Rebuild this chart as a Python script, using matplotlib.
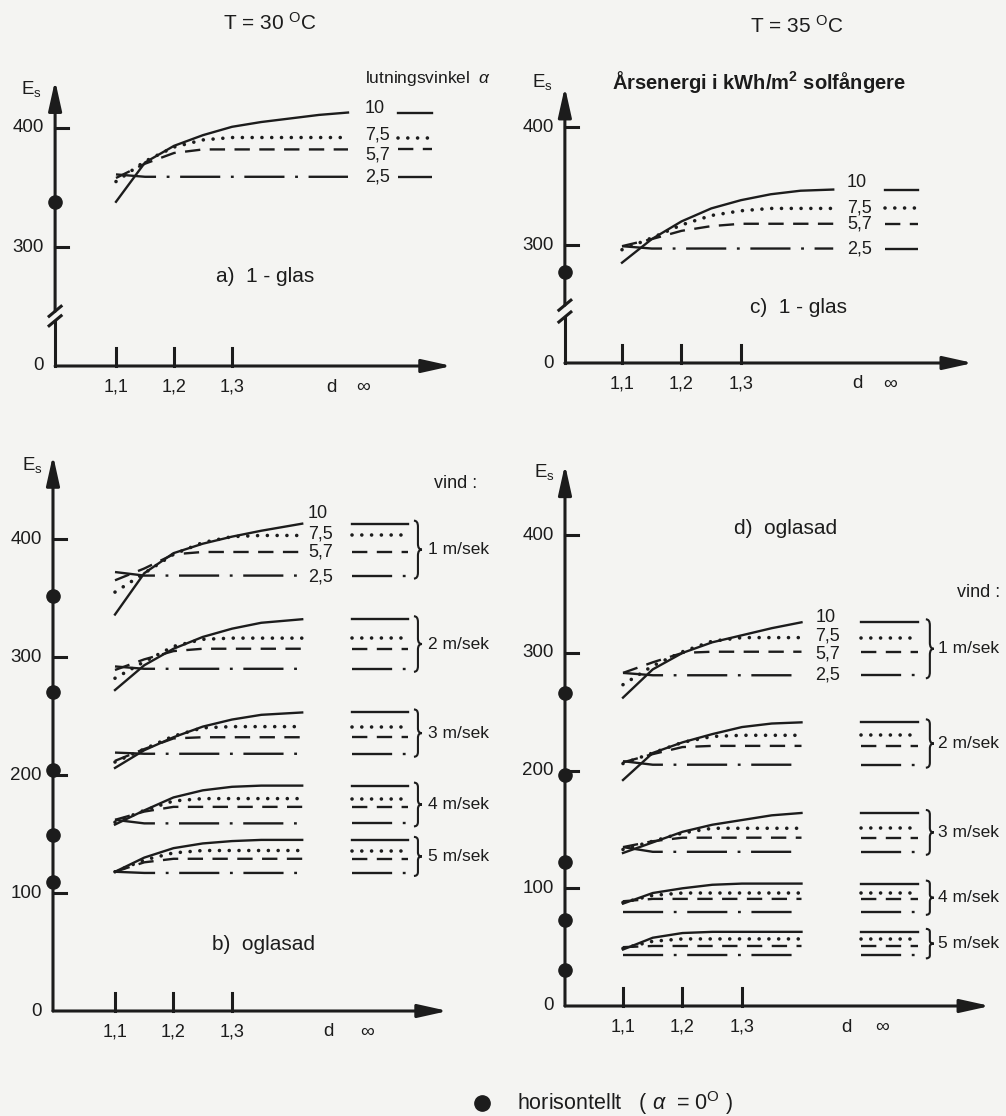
import numpy as np
import matplotlib.pyplot as plt
from matplotlib.path import Path
from matplotlib.patches import PathPatch

plt.rcParams['font.family'] = ['Liberation Sans', 'DejaVu Sans']
plt.rcParams['mathtext.fontset'] = 'custom'
plt.rcParams['mathtext.rm'] = 'Liberation Sans'
plt.rcParams['mathtext.it'] = 'Liberation Sans:italic'
plt.rcParams['mathtext.bf'] = 'Liberation Sans:bold'

INK = '#1c1c1c'
PAPER = '#f4f4f2'
W, H = 1006, 1116

# data (E_s in kWh/m2, d = distance ratio)
ANGLES = ['10', '7,5', '5,7', '2,5']
WIND = ['1 m/sek', '2 m/sek', '3 m/sek', '4 m/sek', '5 m/sek']
X_TICKS = [1.1, 1.2, 1.3]
X_TICK_LABELS = ['1,1', '1,2', '1,3']

# a) T = 30 C, 1-glas
D_A = [1.10, 1.15, 1.20, 1.25, 1.30, 1.35, 1.40, 1.45, 1.50]
A_10 = [338, 371, 385, 394, 401, 405, 408, 411, 413]
A_75 = [355, 372, 384, 390, 392, 392, 392, 392, 392]
A_57 = [358, 370, 379, 382, 382, 382, 382, 382, 382]
A_25 = [361, 359, 359, 359, 359, 359, 359, 359, 359]
A_HORIS = 338

# c) T = 35 C, 1-glas
D_C = [1.10, 1.15, 1.20, 1.25, 1.30, 1.35, 1.40, 1.455]
C_10 = [285, 305, 320, 331, 338, 343, 346, 347]
C_75 = [296, 306, 317, 325, 329, 331, 331, 331]
C_57 = [299, 305, 312, 316, 318, 318, 318, 318]
C_25 = [299, 297, 297, 297, 297, 297, 297, 297]
C_HORIS = 277

# b) T = 30 C, oglasad, one row per wind speed
D_B = [1.10, 1.15, 1.20, 1.25, 1.30, 1.35, 1.42]
B_10 = [[336, 371, 388, 396, 402, 407, 413],
        [272, 293, 307, 317, 324, 329, 332],
        [206, 221, 232, 241, 247, 251, 253],
        [158, 170, 181, 187, 190, 191, 191],
        [118, 130, 138, 142, 144, 145, 145]]
B_75 = [[355, 371, 387, 397, 402, 403, 403],
        [282, 296, 309, 315, 316, 316, 316],
        [211, 222, 233, 240, 241, 241, 241],
        [160, 170, 178, 180, 180, 180, 180],
        [118, 128, 134, 136, 136, 136, 136]]
B_57 = [[365, 375, 387, 389, 389, 389, 389],
        [289, 298, 305, 307, 307, 307, 307],
        [212, 222, 231, 232, 232, 232, 232],
        [162, 169, 173, 173, 173, 173, 173],
        [118, 126, 129, 129, 129, 129, 129]]
B_25 = [[372, 369, 369, 369, 369, 369, 369],
        [292, 290, 290, 290, 290, 290, 290],
        [219, 218, 218, 218, 218, 218, 218],
        [162, 159, 159, 159, 159, 159, 159],
        [118, 117, 117, 117, 117, 117, 117]]
B_HORIS = [352, 270, 204, 149, 109]

# d) T = 35 C, oglasad
D_D = [1.10, 1.15, 1.20, 1.25, 1.30, 1.35, 1.40]
D_10 = [[262, 286, 300, 309, 315, 321, 326],
        [192, 215, 224, 231, 237, 240, 241],
        [130, 139, 148, 154, 158, 162, 164],
        [87, 96, 100, 103, 104, 104, 104],
        [48, 58, 62, 63, 63, 63, 63]]
D_75 = [[273, 289, 301, 310, 313, 313, 313],
        [206, 215, 224, 229, 230, 230, 230],
        [133, 140, 147, 151, 151, 151, 151],
        [88, 94, 96, 96, 96, 96, 96],
        [49, 55, 57, 57, 57, 57, 57]]
D_57 = [[283, 292, 300, 301, 301, 301, 301],
        [207, 214, 220, 221, 221, 221, 221],
        [135, 140, 143, 143, 143, 143, 143],
        [89, 91, 91, 91, 91, 91, 91],
        [50, 51, 51, 51, 51, 51, 51]]
D_25 = [[283, 281, 281, 281, 281, 281, 281],
        [208, 205, 205, 205, 205, 205, 205],
        [135, 131, 131, 131, 131, 131, 131],
        [80, 80, 80, 80, 80, 80, 80],
        [43, 43, 43, 43, 43, 43, 43]]
D_HORIS = [266, 196, 122, 73, 31]

STYLE = {
    '10': dict(ls='-', lw=1.7),
    '7,5': dict(ls=(0, (0.01, 2.7)), lw=2.6, dash_capstyle='round'),
    '5,7': dict(ls=(0, (6.5, 4)), lw=1.7),
    '2,5': dict(ls=(0, (17, 4.5, 1.2, 4.5)), lw=1.7),
}

fig = plt.figure(figsize=(W / 100, H / 100), dpi=100, facecolor=PAPER)


def panel(box, px0, sx, py0, v0, sy):
    l, r, t, b = box
    ax = fig.add_axes([l / W, 1 - b / H, (r - l) / W, (b - t) / H])
    ax.set_xlim(1.1 + (l - px0) / sx, 1.1 + (r - px0) / sx)
    ax.set_ylim(v0 + (py0 - b) / sy, v0 + (py0 - t) / sy)
    ax.axis('off')
    return ax, sx, sy


def arrow(ax, start, end):
    ax.annotate('', xy=end, xytext=start,
                arrowprops=dict(arrowstyle='-|>,head_length=0.9,head_width=0.2',
                                lw=2.2, color=INK, shrinkA=0, shrinkB=0,
                                mutation_scale=20))


def frame(p, x0, y0, xend, ytop, yticks, ylabels, dinf, brk=None):
    ax, sx, sy = p
    if brk is None:
        arrow(ax, (x0, y0), (x0, ytop))
    else:
        lo, hi = brk
        ax.plot([x0, x0], [y0, lo], color=INK, lw=2.2, clip_on=False)
        arrow(ax, (x0, hi), (x0, ytop))
        for v in (lo, hi):
            ax.plot([x0 - 6 / sx, x0 + 6 / sx], [v - 5 / sy, v + 5 / sy],
                    color=INK, lw=2.2, clip_on=False)
    arrow(ax, (x0, y0), (xend, y0))
    for v, lab in zip(yticks, ylabels):
        if v != y0:
            ax.plot([x0, x0 + 13 / sx], [v, v], color=INK, lw=2.2, clip_on=False)
        ax.text(x0 - 11 / sx, v, lab, ha='right', va='center', fontsize=13.5, color=INK)
    for t, lab in zip(X_TICKS, X_TICK_LABELS):
        ax.plot([t, t], [y0, y0 + 18 / sy], color=INK, lw=2.2, clip_on=False)
        ax.text(t, y0 - 21 / sy, lab, ha='center', va='center', fontsize=13, color=INK)
    ax.text(dinf[0], y0 - 21 / sy, 'd', ha='center', va='center', fontsize=13.5, color=INK)
    ax.text(dinf[1], y0 - 21 / sy, '∞', ha='center', va='center', fontsize=14, color=INK)


def brace(ax, x, ylo, yhi, w):
    ym = (ylo + yhi) / 2
    k = (yhi - ylo) * 0.1
    verts = [(x, yhi), (x + w / 2, yhi), (x + w / 2, yhi - k),
             (x + w / 2, ym + k), (x + w / 2, ym), (x + w, ym),
             (x + w / 2, ym), (x + w / 2, ym - k),
             (x + w / 2, ylo + k), (x + w / 2, ylo), (x, ylo)]
    codes = [Path.MOVETO, Path.CURVE3, Path.CURVE3, Path.LINETO, Path.CURVE3, Path.CURVE3,
             Path.CURVE3, Path.CURVE3, Path.LINETO, Path.CURVE3, Path.CURVE3]
    ax.add_patch(PathPatch(Path(verts, codes), fill=False, lw=1.5, ec=INK, clip_on=False))


def group(p, d, series, lab_x, leg_x, offs=(0, 0, 0, 0), labels=True):
    ax, sx, sy = p
    for name, vals, off in zip(ANGLES, series, offs):
        st = STYLE[name]
        ax.plot(d, vals, color=INK, clip_on=False, **st)
        ax.plot(leg_x, [vals[-1], vals[-1]], color=INK, clip_on=False, **st)
        if labels:
            ax.text(lab_x, vals[-1] + off / sy, name, ha='left', va='center',
                    fontsize=13, color=INK)


# ---- a) ----
pa = panel((0, 500, 0, 430), 116, 580, 247, 300, 1.19)
ax = pa[0]
frame(pa, 0.995, 200, 1.679, 440, [200, 300, 400], ['0', '300', '400'],
      (1.472, 1.526), brk=(238, 246))
group(pa, D_A, [A_10, A_75, A_57, A_25], 1.529, [1.586, 1.645], offs=(4, 3, -6, 0))
ax.plot(0.995, A_HORIS, 'o', ms=9.5, color=INK, clip_on=False, zorder=5)
ax.text(1.365, 488, 'T = 30 $^{\\rm O}$C', ha='center', va='center', fontsize=15, color=INK)
ax.text(1.529, 442, 'lutningsvinkel  $\\alpha$', ha='left', va='center', fontsize=12.5, color=INK)
ax.text(0.955, 433, 'E$_{\\rm s}$', ha='center', va='center', fontsize=13.5, color=INK)
ax.text(1.357, 275, 'a)  1 - glas', ha='center', va='center', fontsize=15, color=INK)

# ---- c) ----
pc = panel((500, 1006, 0, 430), 622, 595, 245, 300, 1.18)
ax = pc[0]
frame(pc, 1.004, 200, 1.69, 434, [200, 300, 400], ['0', '300', '400'],
      (1.495, 1.55), brk=(239, 249))
group(pc, D_C, [C_10, C_75, C_57, C_25], 1.478, [1.542, 1.597], offs=(7, 0, 0, 0))
ax.plot(1.004, C_HORIS, 'o', ms=9.5, color=INK, clip_on=False, zorder=5)
ax.text(1.394, 486, 'T = 35 $^{\\rm O}$C', ha='center', va='center', fontsize=15, color=INK)
ax.text(1.33, 438, 'Årsenergi i kWh/m$^{\\mathbf{2}}$ solfångere', ha='center', va='center',
        fontsize=14.5, fontweight='bold', color=INK)
ax.text(0.966, 438, 'E$_{\\rm s}$', ha='center', va='center', fontsize=13.5, color=INK)
ax.text(1.396, 247, 'c)  1 - glas', ha='center', va='center', fontsize=15, color=INK)

# ---- b) ----
pb = panel((0, 500, 430, 1116), 115, 585, 1011, 0, 1.18)
ax = pb[0]
frame(pb, 0.994, 0, 1.669, 471, [0, 100, 200, 300, 400], ['0', '100', '200', '300', '400'],
      (1.464, 1.531))
for i, w in enumerate(WIND):
    sers = [B_10[i], B_75[i], B_57[i], B_25[i]]
    group(pb, D_B, sers, 1.43, [1.505, 1.60], offs=(10, 1, 0, -1), labels=(i == 0))
    hi, lo = B_10[i][-1] + 3 / 1.18, B_25[i][-1] - 3 / 1.18
    brace(ax, 1.611, lo, hi, 8 / 585)
    ax.text(1.635, (hi + lo) / 2, w, ha='left', va='center', fontsize=12.5, color=INK)
ax.plot([0.994] * len(B_HORIS), B_HORIS, 'o', ms=9.5, color=INK, clip_on=False, zorder=5, ls='none')
ax.text(1.645, 447, 'vind :', ha='left', va='center', fontsize=13, color=INK)
ax.text(0.958, 463, 'E$_{\\rm s}$', ha='center', va='center', fontsize=13.5, color=INK)
ax.text(1.353, 56, 'b)  oglasad', ha='center', va='center', fontsize=15, color=INK)

# ---- d) ----
pd_ = panel((500, 1006, 430, 1116), 623, 595, 1006, 0, 1.177)
ax = pd_[0]
frame(pd_, 1.0025, 0, 1.717, 460, [0, 100, 200, 300, 400], ['0', '100', '200', '300', '400'],
      (1.476, 1.535))
for i, w in enumerate(WIND):
    sers = [D_10[i], D_75[i], D_57[i], D_25[i]]
    group(pd_, D_D, sers, 1.423, [1.50, 1.596], offs=(5, 2, -2, 0), labels=(i == 0))
    hi, lo = D_10[i][-1] + 3 / 1.177, D_25[i][-1] - 3 / 1.177
    brace(ax, 1.609, lo, hi, 8 / 595)
    ax.text(1.63, (hi + lo) / 2, w, ha='left', va='center', fontsize=12.5, color=INK)
ax.plot([1.0025] * len(D_HORIS), D_HORIS, 'o', ms=9.5, color=INK, clip_on=False, zorder=5, ls='none')
ax.text(1.661, 351, 'vind :', ha='left', va='center', fontsize=13, color=INK)
ax.text(0.968, 454, 'E$_{\\rm s}$', ha='center', va='center', fontsize=13.5, color=INK)
ax.text(1.374, 406, 'd)  oglasad', ha='center', va='center', fontsize=15, color=INK)

# legend at the bottom
pb[0].plot(1.1 + (482 - 115) / 585, (1011 - 1103) / 1.18, 'o', ms=11, color=INK, clip_on=False)
fig.text(517 / W, 1 - 1103 / H, 'horisontellt   ( $\\alpha$  = 0$^{\\rm O}$ )',
         ha='left', va='center', fontsize=15.5, color=INK)

fig.savefig('out.png', dpi=100, facecolor=PAPER)
